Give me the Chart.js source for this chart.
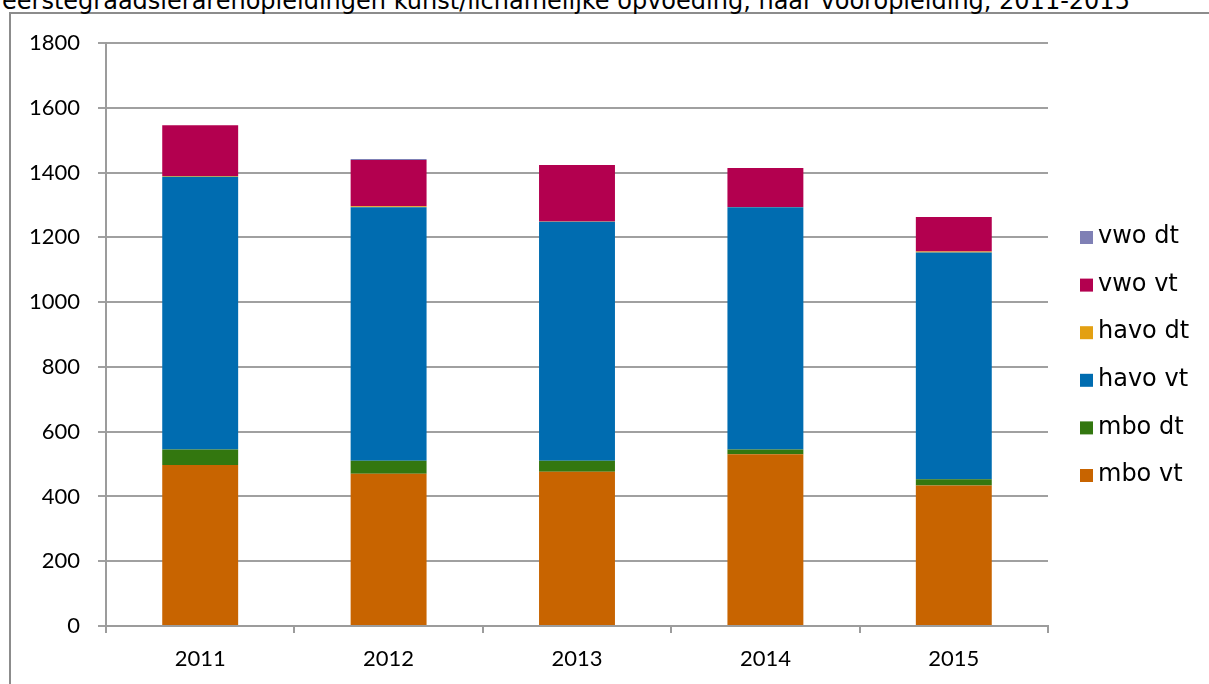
<!DOCTYPE html>
<html>
<head>
<meta charset="utf-8">
<script src="https://cdn.jsdelivr.net/npm/chart.js@4.4.1/dist/chart.umd.min.js"></script>
<style>
  html, body { margin: 0; padding: 0; background: #fff; overflow: hidden; }
  #wrap { position: relative; width: 1209px; height: 684px; }
  #frame { position: absolute; left: 9px; top: 12px; width: 1300px; height: 800px;
           border-left: 2px solid #8c8c8c; border-top: 2px solid #8c8c8c; }
  #title { position: absolute; left: 2px; top: -11px; white-space: nowrap; line-height: 24px;
           font-family: "DejaVu Sans", sans-serif; font-size: 24px; color: #000; }
  #chart { position: absolute; left: 0; top: 0; }
</style>
</head>
<body>
<div id="wrap">
  <div id="frame"></div>
  <div id="title">eerstegraadslerarenopleidingen kunst/lichamelijke opvoeding, naar vooropleiding, 2011-2015</div>
  <canvas id="chart" width="1209" height="684"></canvas>
</div>
<script>
// data
const years = ['2011', '2012', '2013', '2014', '2015'];
const mboVt  = [497, 470, 476, 530, 434];
const mboDt  = [48, 40, 34, 15, 19];
const havoVt = [842, 783, 738, 748, 700];
const havoDt = [2, 3, 1, 1, 3];
const vwoVt  = [157, 143, 174, 120, 107];
const vwoDt  = [0, 3, 0, 0, 0];
const yTicks = [0, 200, 400, 600, 800, 1000, 1200, 1400, 1600, 1800];

const FONT = '"DejaVu Sans", sans-serif';
const AXIS_FONT = 'Lato, sans-serif';

// legend on the right, top item = last dataset
const sideLegend = {
    id: 'sideLegend',
    afterDraw(chart) {
        const ctx = chart.ctx;
        const sets = chart.data.datasets.slice().reverse();
        ctx.save();
        ctx.font = '24px ' + FONT;
        ctx.textBaseline = 'middle';
        sets.forEach((ds, i) => {
            const y = 237 + i * 47.6;
            ctx.fillStyle = ds.backgroundColor;
            ctx.fillRect(1080, y - 6, 13, 13);
            ctx.fillStyle = '#000';
            ctx.fillText(ds.label, 1098, y);
        });
        ctx.restore();
    }
};

function bar(label, data, color) {
    return { label: label, data: data, backgroundColor: color, borderWidth: 0,
             categoryPercentage: 1, barPercentage: 0.403 };
}

new Chart(document.getElementById('chart'), {
    type: 'bar',
    data: {
        labels: years,
        datasets: [
            bar('mbo vt', mboVt, '#c86400'),
            bar('mbo dt', mboDt, '#33770f'),
            bar('havo vt', havoVt, '#006cb0'),
            bar('havo dt', havoDt, '#e3a012'),
            bar('vwo vt', vwoVt, '#b3004f'),
            bar('vwo dt', vwoDt, '#7f80b5')
        ]
    },
    options: {
        responsive: false,
        animation: false,
        layout: { padding: { left: 0, top: 43, right: 161, bottom: 0 } },
        plugins: { legend: { display: false }, tooltip: { enabled: false } },
        scales: {
            x: {
                stacked: true,
                grid: { offset: true, drawOnChartArea: false, color: '#9c9c9c', lineWidth: 2, tickLength: 7 },
                border: { color: '#9c9c9c', width: 2 },
                ticks: { color: '#000', font: { family: AXIS_FONT, size: 22 }, padding: 13 },
                afterFit(scale) { scale.height = 58; }
            },
            y: {
                stacked: true,
                min: 0, max: 1800,
                afterBuildTicks(scale) { scale.ticks = yTicks.map(v => ({ value: v })); },
                grid: { color: '#a0a0a0', lineWidth: 2, tickLength: 8 },
                border: { color: '#9c9c9c', width: 2 },
                ticks: { color: '#000', font: { family: AXIS_FONT, size: 22 }, padding: 18,
                         callback: v => String(v) },
                afterFit(scale) { scale.width = 106; }
            }
        }
    },
    plugins: [sideLegend]
});
</script>
</body>
</html>
